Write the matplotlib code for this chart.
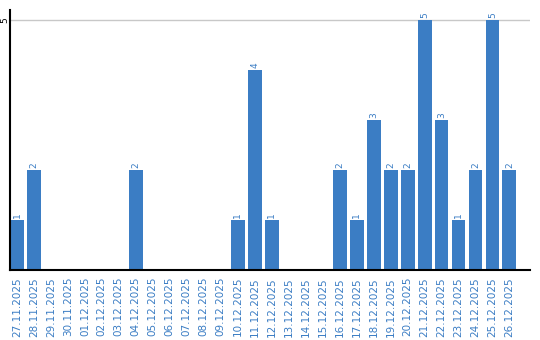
import matplotlib
matplotlib.use("Agg")
import matplotlib.pyplot as plt

dates = ["27.11.2025", "28.11.2025", "29.11.2025", "30.11.2025", "01.12.2025",
         "02.12.2025", "03.12.2025", "04.12.2025", "05.12.2025", "06.12.2025",
         "07.12.2025", "08.12.2025", "09.12.2025", "10.12.2025", "11.12.2025",
         "12.12.2025", "13.12.2025", "14.12.2025", "15.12.2025", "16.12.2025",
         "17.12.2025", "18.12.2025", "19.12.2025", "20.12.2025", "21.12.2025",
         "22.12.2025", "23.12.2025", "24.12.2025", "25.12.2025", "26.12.2025"]
values = [1, 2, 0, 0, 0, 0, 0, 2, 0, 0, 0, 0, 0, 1, 4, 1, 0, 0, 0, 2,
          1, 3, 2, 2, 5, 3, 1, 2, 5, 2]

blue = "#3b7dc4"

fig = plt.figure(figsize=(5.4, 3.4), dpi=100)
ax = fig.add_axes([10/540, 70/340, 520/540, 260/340])

x = list(range(len(dates)))
ax.bar(x, values, width=0.82, color=blue, zorder=2)
for xi, v in zip(x, values):
    if v > 0:
        ax.text(xi, v + 0.04, str(v), rotation=90, ha="center", va="bottom",
                color=blue, fontsize=6.5)

ax.set_xlim(-0.41, len(dates) - 1 + 1.21)
ax.set_ylim(0, 5.2)
ax.set_yticks([5])
ax.set_yticklabels(["5"], rotation=90, va="center", fontsize=6.5)
ax.grid(axis="y", color="#c8c8c8", linewidth=1, zorder=0)
ax.tick_params(axis="y", length=0, pad=0.5)
ax.set_xticks(x)
ax.set_xticklabels(dates, rotation=90, color=blue, fontsize=7.5)
ax.tick_params(axis="x", length=0, pad=5)
for s in ["top", "right"]:
    ax.spines[s].set_visible(False)
ax.spines["left"].set_linewidth(1.5)
ax.spines["bottom"].set_linewidth(1.5)

fig.savefig("out.png", dpi=100)
